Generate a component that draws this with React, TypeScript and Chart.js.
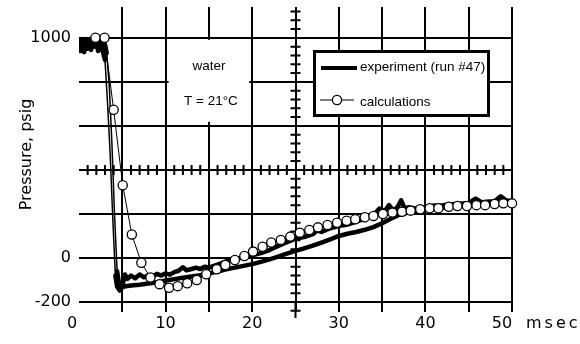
import React, { useEffect, useRef } from 'react';
import { Chart, registerables } from 'chart.js';

Chart.register(...registerables);

// ---- data ----
const calcTime = [1.9, 2.95, 4.0, 5.05, 6.1, 7.2, 8.25, 9.3, 10.4, 11.4, 12.5, 13.6, 14.7, 15.9, 16.9, 18.0, 19.1, 20.1, 21.2, 22.2, 23.3, 24.4, 25.5, 26.6, 27.6, 28.7, 29.8, 30.9, 31.9, 33.0, 34.0, 35.1, 36.2, 37.3, 38.3, 39.4, 40.5, 41.5, 42.7, 43.7, 44.8, 45.9, 46.9, 48.0, 49.0, 50.0];
const calcPsi = [1000, 1000, 673, 330, 107, -22, -89, -119, -135, -128, -115, -100, -74, -51, -32, -9, 9, 29, 51, 70, 82, 97, 115, 127, 139, 150, 160, 169, 176, 185, 191, 200, 206, 210, 215, 221, 226, 226, 233, 236, 236, 240, 240, 245, 248, 248];

const expUpperTime = [0.0, 0.2, 0.4, 0.6, 0.8, 1.0, 1.2, 1.4, 1.6, 1.8, 2.0, 2.2, 2.4, 2.6, 2.8, 3.0, 3.3, 3.6, 3.9, 4.2, 4.4, 4.7, 5.0, 5.3, 5.6, 6.0, 6.5, 7.0, 7.5, 8.0, 8.5, 9.0, 9.5, 10.0, 10.5, 11.0, 11.5, 12.0, 12.4, 13.0, 13.5, 14.0, 14.5, 15.0, 16.0, 17.0, 18.0, 19.0, 20.0, 21.0, 22.0, 23.0, 24.0, 25.0, 26.0, 27.0, 27.5, 28.0, 29.0, 30.0, 31.0, 32.0, 33.0, 34.0, 34.7, 35.3, 35.8, 36.3, 36.8, 37.2, 37.6, 38.0, 39.0, 40.0, 41.0, 42.0, 43.0, 44.0, 45.0, 45.8, 46.5, 47.0, 48.0, 48.7, 49.3, 50.0];
const expUpperPsi = [985, 940, 995, 935, 990, 950, 995, 945, 985, 960, 995, 940, 990, 960, 930, 900, 700, 470, 180, -80, -130, -148, -130, -75, -95, -80, -92, -75, -88, -78, -85, -72, -80, -70, -76, -64, -58, -42, -56, -50, -44, -50, -40, -44, -30, -15, -6, 4, 12, 22, 36, 55, 72, 88, 95, 108, 125, 118, 135, 145, 152, 165, 178, 195, 225, 212, 240, 215, 232, 262, 225, 230, 224, 232, 238, 240, 244, 246, 250, 270, 252, 255, 258, 280, 262, 258];

const expLowerTime = [3.0, 3.2, 3.5, 3.8, 4.1, 4.4, 4.7, 5.2, 6.0, 7.0, 8.0, 9.0, 10.0, 11.0, 12.0, 13.0, 14.0, 15.0, 16.0, 17.0, 18.0, 19.0, 20.0, 21.0, 22.0, 23.0, 24.0, 25.0, 26.0, 27.0, 28.0, 29.0, 30.0, 31.0, 32.0, 33.0, 34.0, 35.0, 36.0, 37.0, 38.0, 39.0, 40.0, 41.0, 42.0, 43.0, 44.0, 45.0, 46.0, 47.0, 48.0, 49.0, 50.0];
const expLowerPsi = [970, 930, 780, 520, 200, -60, -138, -130, -125, -122, -116, -110, -102, -96, -90, -84, -78, -70, -62, -52, -44, -36, -28, -18, -6, 6, 20, 32, 44, 56, 70, 84, 100, 110, 118, 128, 140, 158, 178, 196, 206, 212, 218, 222, 228, 232, 236, 240, 242, 245, 248, 250, 252];

const xGridValues = [5, 10, 15, 20, 25, 30, 35, 40, 45, 50];
const xTickValues = [0, 10, 20, 30, 40, 50];
const xTickLabels = ['0', '10', '20', '30', '40', '50'];
const xUnit = 'msec';
const yGridValues = [-200, 0, 200, 400, 600, 800, 1000];
const yLabelValues = [-200, 0, 1000];
const yTitle = 'Pressure, psig';
const legendLabels = ['experiment (run #47)', 'calculations'];
const noteLines = ['water', 'T = 21°C'];

const NUM_FONT = '16px "DejaVu Sans"';
const TXT_FONT = '13.5px "Liberation Sans", Arial, sans-serif';

// fast transients are drawn as thin traces, slow parts as the thick recorder line
const expSegment = {
  borderWidth: (c: any) => {
    const dy = Math.abs(c.p1.parsed.y - c.p0.parsed.y);
    const dx = Math.abs(c.p1.parsed.x - c.p0.parsed.x) || 1e-6;
    return dy / dx > 500 ? 1.5 : 4.5;
  },
};

const decor = {
  id: 'decor',
  beforeDatasetsDraw(chart: any) {
    const { ctx, scales: { x, y }, chartArea } = chart;
    ctx.save();
    // white note area
    const mx1 = x.getPixelForValue(10) + 3;
    const mx2 = x.getPixelForValue(20) - 3;
    const my1 = y.getPixelForValue(1000) + 2;
    const my2 = y.getPixelForValue(600) - 4;
    ctx.fillStyle = '#fff';
    ctx.fillRect(mx1, my1, mx2 - mx1, my2 - my1);
    // cross axes with minor ticks
    ctx.strokeStyle = '#000';
    ctx.lineWidth = 2;
    ctx.beginPath();
    const y400 = y.getPixelForValue(400);
    for (let t = 1; t < 50; t++) {
      if (t % 5 === 0) continue;
      const px = x.getPixelForValue(t);
      ctx.moveTo(px, y400 - 5);
      ctx.lineTo(px, y400 + 5);
    }
    const x25 = x.getPixelForValue(25);
    for (let p = -240; p <= 1120; p += 40) {
      if (p % 200 === 0 && p >= -200 && p <= 1000) continue;
      const py = y.getPixelForValue(p);
      ctx.moveTo(x25 - 5, py);
      ctx.lineTo(x25 + 5, py);
    }
    ctx.moveTo(x25, chartArea.bottom);
    ctx.lineTo(x25, chartArea.bottom + 16);
    ctx.stroke();
    // note text
    ctx.fillStyle = '#000';
    ctx.font = TXT_FONT;
    ctx.textAlign = 'center';
    ctx.textBaseline = 'middle';
    const cx = x.getPixelForValue(15);
    ctx.fillText(noteLines[0], cx, y.getPixelForValue(870));
    ctx.fillText(noteLines[1], cx + 2, y.getPixelForValue(710));
    ctx.restore();
  },
  afterDraw(chart: any) {
    const { ctx, scales: { x }, chartArea } = chart;
    ctx.save();
    // x tick labels
    ctx.fillStyle = '#000';
    ctx.font = NUM_FONT;
    ctx.textAlign = 'center';
    ctx.textBaseline = 'middle';
    const ly = chartArea.bottom + 22;
    xTickValues.forEach((v, i) => {
      let dx = 0;
      if (v === 0) dx = -7;
      if (v === xTickValues[xTickValues.length - 1]) dx = -10;
      ctx.fillText(xTickLabels[i], x.getPixelForValue(v) + dx, ly);
    });
    ctx.textAlign = 'left';
    (ctx as any).letterSpacing = '3px';
    ctx.fillText(xUnit, chartArea.right + 14, ly);
    (ctx as any).letterSpacing = '0px';

    // legend box
    const bx = 313, by = 50, bw = 177, bh = 67;
    ctx.fillStyle = '#fff';
    ctx.fillRect(bx, by, bw, bh);
    ctx.strokeStyle = '#000';
    ctx.lineWidth = 3;
    ctx.strokeRect(bx + 1.5, by + 1.5, bw - 3, bh - 3);
    // row 1
    ctx.lineWidth = 4;
    ctx.beginPath();
    ctx.moveTo(321, 68);
    ctx.lineTo(357, 68);
    ctx.stroke();
    ctx.fillStyle = '#000';
    ctx.font = TXT_FONT;
    ctx.textBaseline = 'middle';
    ctx.fillText(legendLabels[0], 360, 67);
    // row 2
    ctx.lineWidth = 1;
    ctx.beginPath();
    ctx.moveTo(320, 100);
    ctx.lineTo(354, 100);
    ctx.stroke();
    ctx.beginPath();
    ctx.arc(337, 100, 4.6, 0, Math.PI * 2);
    ctx.fillStyle = '#fff';
    ctx.fill();
    ctx.lineWidth = 1.3;
    ctx.stroke();
    ctx.fillStyle = '#000';
    ctx.fillText(legendLabels[1], 360, 102);
    ctx.restore();
  },
};

export default function App() {
  const ref = useRef<HTMLCanvasElement>(null);
  useEffect(() => {
    const toPts = (xs: number[], ys: number[]) => xs.map((t, i) => ({ x: t, y: ys[i] }));
    const chart = new Chart(ref.current as HTMLCanvasElement, {
      type: 'line',
      data: {
        datasets: [
          {
            label: legendLabels[1],
            data: toPts(calcTime, calcPsi),
            borderColor: '#000',
            borderWidth: 1,
            pointRadius: 4.6,
            pointBackgroundColor: '#fff',
            pointBorderColor: '#000',
            pointBorderWidth: 1.3,
            tension: 0,
            clip: false,
          } as any,
          {
            label: legendLabels[0],
            data: toPts(expUpperTime, expUpperPsi),
            borderColor: '#000',
            borderWidth: 4.5,
            pointRadius: 0,
            borderJoinStyle: 'round',
            borderCapStyle: 'round',
            tension: 0,
            segment: expSegment,
          } as any,
          {
            label: legendLabels[0] + ' (lower trace)',
            data: toPts(expLowerTime, expLowerPsi),
            borderColor: '#000',
            borderWidth: 4.5,
            pointRadius: 0,
            borderJoinStyle: 'round',
            borderCapStyle: 'round',
            tension: 0,
            segment: expSegment,
          } as any,
        ],
      },
      options: {
        animation: false,
        responsive: false,
        devicePixelRatio: 1,
        layout: { padding: { left: 0, right: 68, top: 7, bottom: 0 } },
        plugins: { legend: { display: false }, tooltip: { enabled: false } },
        scales: {
          x: {
            type: 'linear',
            min: 0,
            max: 50,
            afterBuildTicks: (s: any) => { s.ticks = xGridValues.map((v) => ({ value: v })); },
            afterFit: (s: any) => { s.height = 42; s.paddingLeft = 0; s.paddingRight = 0; },
            ticks: { display: false, autoSkip: false },
            grid: { color: '#000', lineWidth: 2, drawTicks: true, tickLength: 10 },
            border: { display: false },
          },
          y: {
            type: 'linear',
            min: -200,
            max: 1140,
            afterBuildTicks: (s: any) => { s.ticks = yGridValues.map((v) => ({ value: v })); },
            afterFit: (s: any) => { s.width = 79; s.paddingTop = 0; s.paddingBottom = 0; },
            ticks: {
              autoSkip: false,
              padding: 8,
              color: '#000',
              font: { family: '"DejaVu Sans"', size: 16 },
              callback: (v: any) => (yLabelValues.includes(Number(v)) ? String(v) : ''),
            },
            grid: { color: '#000', lineWidth: 2, drawTicks: false },
            border: { display: false },
            title: {
              display: true,
              text: yTitle,
              color: '#000',
              font: { family: '"DejaVu Sans"', size: 16 },
              padding: { top: 17, bottom: 0 },
            },
          },
        },
      },
      plugins: [decor],
    } as any);
    return () => chart.destroy();
  }, []);
  return (
    <div style={{ position: 'fixed', left: 0, top: 0, width: 580, height: 344, background: '#fff' }}>
      <canvas ref={ref} width={580} height={344} style={{ display: 'block' }} />
    </div>
  );
}
